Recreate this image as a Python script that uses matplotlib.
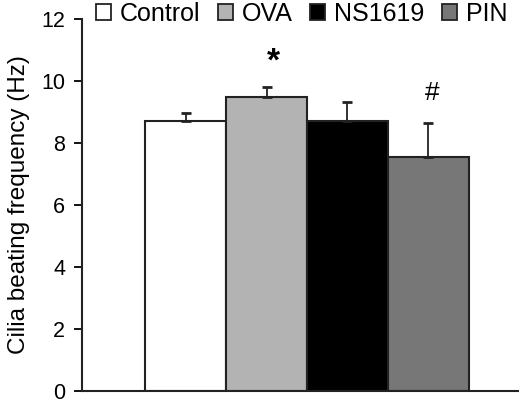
import matplotlib
matplotlib.use("Agg")
import matplotlib.pyplot as plt

# ---------------------------
# Data
# ---------------------------
groups = ["Control", "OVA", "NS1619", "PIN"]
means = [8.7, 9.47, 8.71, 7.54]
errors = [0.28, 0.35, 0.6, 1.1]
colors = ["white", "#b3b3b3", "black", "#777777"]
marks = ["", "*", "", "#"]
mark_y = [None, 10.6, None, 9.6]

plt.rcParams["font.family"] = ["Liberation Sans", "DejaVu Sans"]

fig = plt.figure(figsize=(5.19, 4.04), dpi=100)
ax = fig.add_axes([0.158, 0.032, 0.842, 0.921])

x = list(range(len(groups)))
ax.bar(x, means, width=1.0, color=colors, edgecolor="#222222", linewidth=1.5)
ax.errorbar(x, means, yerr=[[0] * len(errors), errors], fmt="none",
            ecolor="#222222", elinewidth=1.3, capsize=3.8, capthick=2)

# significance marks
for xi, m, my in zip(x, marks, mark_y):
    if m == "*":
        ax.text(xi + 0.08, my, m, ha="center", va="center", fontsize=24, fontweight="bold")
    elif m:
        ax.text(xi + 0.05, my, m, ha="center", va="center", fontsize=19)

ax.set_xlim(-1.28, 4.12)
ax.set_ylim(0, 12)
ax.set_yticks([0, 2, 4, 6, 8, 10, 12])
ax.set_xticks([])
ax.tick_params(axis="y", labelsize=15.5, length=6, width=1.3, direction="out", pad=6)
ax.set_ylabel("Cilia beating frequency (Hz)", fontsize=17.5)
ax.yaxis.set_label_coords(-0.12, 0.5)

for side in ["top", "right"]:
    ax.spines[side].set_visible(False)
for side in ["left", "bottom"]:
    ax.spines[side].set_linewidth(1.5)
    ax.spines[side].set_color("#222222")

handles = [plt.Rectangle((0, 0), 1, 1, facecolor=c, edgecolor="#222222", linewidth=1.3)
           for c in colors]
ax.legend(handles, groups, ncol=4, frameon=False, loc="center left",
          bbox_to_anchor=(0.033, 1.013), fontsize=18, handlelength=0.6,
          handleheight=0.6, handletextpad=0.35, columnspacing=0.7,
          borderaxespad=0, borderpad=0)

fig.savefig("out.png", dpi=100)
